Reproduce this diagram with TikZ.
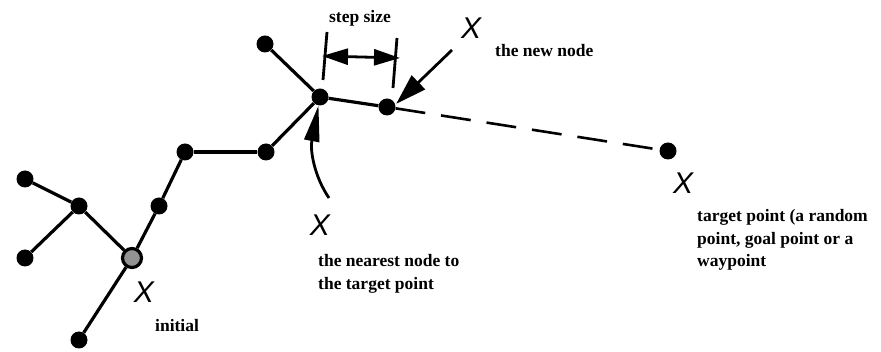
\documentclass[tikz,border=0pt]{standalone}
\usepackage{fontspec}
\setmainfont{Liberation Serif}
\newfontfamily\xfont{Liberation Sans}
\usetikzlibrary{arrows.meta}
\begin{document}
\begin{tikzpicture}[x=1pt,y=-1pt,
  edge/.style={line width=3.2pt},
  treenode/.style={circle,fill=black,inner sep=0pt,minimum size=17pt},
  rootnode/.style={circle,fill=gray!85,draw=black,line width=3.2pt,inner sep=0pt,minimum size=19pt},
  xmark/.style={font=\xfont\itshape\fontsize{30}{30}\selectfont,inner sep=0pt},
  caption/.style={font=\bfseries\fontsize{17.5}{22.5}\selectfont,inner sep=0pt,anchor=base west},
  nextline/.style={caption,yshift=-22.5pt},
  pointer/.style={line width=2.8pt,-{Triangle[length=31pt,width=19pt]}},
  tick/.style={line width=2.8pt}]
\useasboundingbox (0,0) rectangle (881,352);

% tree nodes
\node[treenode] (a) at (265,44) {};
\node[treenode] (n) at (320,97) {};
\node[treenode] (nw) at (387,107) {};
\node[treenode] (t) at (668,151) {};
\node[treenode] (b) at (266,152) {};
\node[treenode] (c) at (185,152) {};
\node[treenode] (d) at (159,206) {};
\node[rootnode] (i) at (132,258) {};
\node[treenode] (e) at (79,206) {};
\node[treenode] (f) at (25,179) {};
\node[treenode] (g) at (25,258) {};
\node[treenode] (h) at (79,340) {};

% tree edges
\draw[edge] (n) -- (a);
\draw[edge] (n) -- (nw);
\draw[edge] (n) -- (b);
\draw[edge] (b) -- (c);
\draw[edge] (c) -- (d);
\draw[edge] (d) -- (i);
\draw[edge] (i) -- (e);
\draw[edge] (e) -- (f);
\draw[edge] (e) -- (g);
\draw[edge] (i) -- (h);

% extension towards the target point
\draw[line width=2.6pt,dash pattern=on 30pt off 16pt] (nw) -- (t);

% step size dimension
\coordinate (l1) at (327,32);
\coordinate (l2) at (323,80);
\coordinate (r1) at (397,38);
\coordinate (r2) at (393,88);
\draw[tick] (l1) -- (l2);
\draw[tick] (r1) -- (r2);
\coordinate (dl) at (322,56);
\coordinate (dr) at (400,58);
\begin{scope}[>={Triangle[length=26pt,width=16pt]}]
  \draw[line width=2.8pt,<->] (dl) -- (dr);
\end{scope}
\node[caption,anchor=base] (ss) at (360,23) {step size};

% pointer to the new node
\coordinate (pn) at (452,50);
\draw[pointer] (pn) -- ([shift={(3pt,-3pt)}]nw.north east);
\node[xmark] (xn) at (471,28) {X};
\node[caption] (nn) at (495,57) {the new node};

% pointer to the nearest node
\coordinate (pc) at (329,198);
\draw[line width=2.8pt,-{Triangle[length=36pt,width=15pt]}] (pc) .. controls (314,176) and (310,150) .. (n.-100);
\node[xmark] (xc) at (320,225) {X};
\node[caption] (nc1) at (318,267) {the nearest node to};
\node[nextline] (nc2) at (nc1.base west) {the target point};

% target point
\node[xmark] (xt) at (683,183) {X};
\node[caption] (tc1) at (697,222) {target point (a random};
\node[nextline] (tc2) at (tc1.base west) {point, goal point or a};
\node[nextline] (tc3) at (tc2.base west) {waypoint};

% initial node
\node[xmark] (xi) at (144,292) {X};
\node[caption] (ic) at (155,332) {initial};
\end{tikzpicture}
\end{document}
